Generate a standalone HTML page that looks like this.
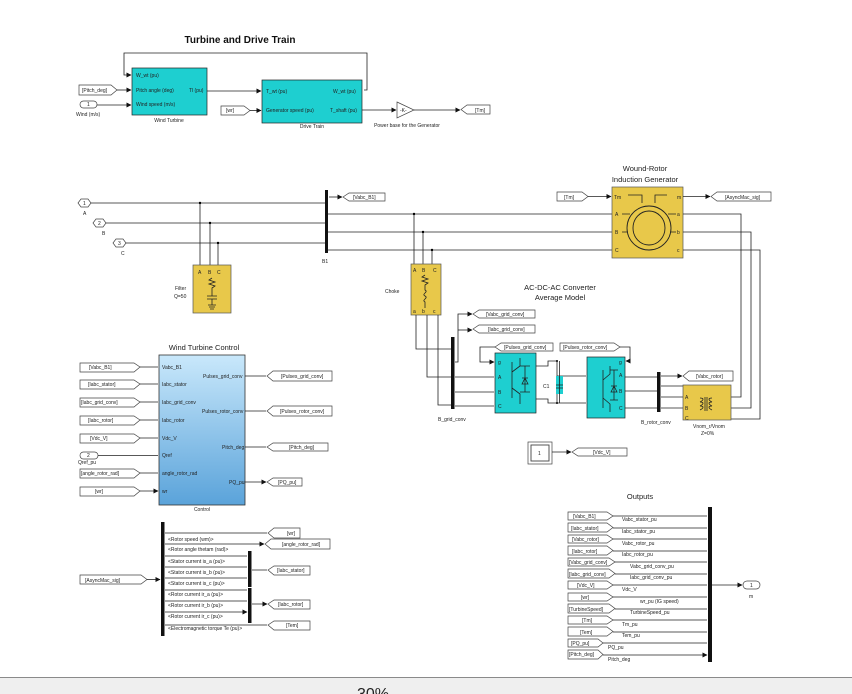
<!DOCTYPE html>
<html><head><meta charset="utf-8"><style>
body{margin:0;background:#fff;width:852px;height:694px;overflow:hidden}
svg{display:block;font-family:"Liberation Sans",sans-serif}
.t{font-size:5px;fill:#222}
.l{stroke:#222;stroke-width:0.8;fill:none}
.tag{fill:#fff;stroke:#444;stroke-width:0.7}
.cy{fill:#1ecfd0;stroke:#222;stroke-width:0.7}
.yl{fill:#e8c84a;stroke:#555;stroke-width:0.7}
</style></head><body>
<svg width="852" height="694" viewBox="0 0 852 694">
<defs>
<marker id="a" markerWidth="5" markerHeight="5" refX="4.5" refY="2.5" orient="auto" markerUnits="userSpaceOnUse"><path d="M0,0L5,2.5L0,5z" fill="#111"/></marker>
<linearGradient id="g" x1="0" y1="0" x2="0" y2="1"><stop offset="0" stop-color="#c9e8fb"/><stop offset="1" stop-color="#5aa3da"/></linearGradient>
</defs>

<!-- Turbine and Drive Train -->
<text x="240" y="43" font-size="10" font-weight="bold" text-anchor="middle" fill="#111">Turbine and Drive Train</text>
<path class="l" d="M364,90 H367 V53 H124 V75 H131" marker-end="url(#a)"/>
<rect class="cy" x="132" y="68" width="75" height="47"/>
<text class="t" x="136" y="77">W_wt (pu)</text><text class="t" x="136" y="92">Pitch angle (deg)</text><text class="t" x="136" y="106">Wind speed (m/s)</text>
<text class="t" x="189" y="92">Tl (pu)</text>
<text class="t" x="169" y="122" text-anchor="middle">Wind Turbine</text>
<polygon class="tag" points="79,85 111,85 117,90 111,95 79,95"/><text class="t" x="82" y="92">[Pitch_deg]</text>
<path class="l" d="M117,90 H131" marker-end="url(#a)"/>
<rect class="tag" x="80" y="101" width="17" height="7" rx="3.5"/><text class="t" x="87" y="106">1</text>
<text class="t" x="76" y="116">Wind (m/s)</text>
<path class="l" d="M97,105 H131" marker-end="url(#a)"/>
<path class="l" d="M207,91 H261" marker-end="url(#a)"/>
<rect class="cy" x="262" y="80" width="100" height="43"/>
<text class="t" x="266" y="93">T_wt (pu)</text><text class="t" x="266" y="112">Generator speed (pu)</text>
<text class="t" x="333" y="93">W_wt (pu)</text><text class="t" x="330" y="112">T_shaft (pu)</text>
<text class="t" x="312" y="128" text-anchor="middle">Drive Train</text>
<polygon class="tag" points="221,106 244,106 250,110.5 244,115 221,115"/><text class="t" x="226" y="112">[wr]</text>
<path class="l" d="M250,110.5 H261" marker-end="url(#a)"/>
<path class="l" d="M362,110 H396" marker-end="url(#a)"/>
<polygon fill="#fff" stroke="#444" stroke-width="0.7" points="397,102 414,110 397,118"/><text class="t" x="400" y="112">-K-</text>
<text class="t" x="407" y="127" text-anchor="middle">Power base for the Generator</text>
<path class="l" d="M414,110 H460" marker-end="url(#a)"/>
<polygon class="tag" points="461,109.5 467,105 490,105 490,114 467,114"/><text class="t" x="475" y="112">[Tm]</text>

<!-- Grid inputs -->
<polygon class="tag" points="78,203 81,199 88,199 91,203 88,207 81,207"/><text class="t" x="83" y="205">1</text><text class="t" x="83" y="215">A</text>
<polygon class="tag" points="93,223 96,219 103,219 106,223 103,227 96,227"/><text class="t" x="98" y="225">2</text><text class="t" x="102" y="235">B</text>
<polygon class="tag" points="113,243 116,239 123,239 126,243 123,247 116,247"/><text class="t" x="118" y="245">3</text><text class="t" x="121" y="255">C</text>
<path class="l" d="M91,203 H325 M106,223 H325 M126,243 H325"/>
<path class="l" d="M200,203 V265 M210,223 V265 M218,243 V265"/>
<circle cx="200" cy="203" r="1.2"/><circle cx="210" cy="223" r="1.2"/><circle cx="218" cy="243" r="1.2"/>
<rect class="yl" x="193" y="265" width="38" height="48"/>
<path class="l" d="M212,278 l-3,2 6,2 -6,2 6,2 -3,2 V296 M207,296 h10 M207,299 h10 M212,299 v6 M208,305h8 M209,307h6 M210,309h4"/>
<text class="t" x="198" y="274">A</text><text class="t" x="208" y="274">B</text><text class="t" x="217" y="274">C</text>
<text class="t" x="175" y="290">Filter</text><text class="t" x="174" y="298">Q=50</text>
<rect x="325" y="190" width="3" height="63" fill="#111"/>
<text class="t" x="322" y="263">B1</text>
<path class="l" d="M329,197 H342" marker-end="url(#a)"/>
<polygon class="tag" points="343,197 349,193 385,193 385,201 349,201"/><text class="t" x="353" y="199">[Vabc_B1]</text>
<path class="l" d="M328,214 H612 M328,232 H612 M328,250 H612"/>
<path class="l" d="M414,214 V264 M423,232 V264 M432,250 V264"/>
<circle cx="414" cy="214" r="1.2"/><circle cx="423" cy="232" r="1.2"/><circle cx="432" cy="250" r="1.2"/>
<rect class="yl" x="411" y="264" width="30" height="51"/>
<text class="t" x="413" y="272">A</text><text class="t" x="422" y="272">B</text><text class="t" x="433" y="272">C</text>
<text class="t" x="413" y="313">a</text><text class="t" x="422" y="313">b</text><text class="t" x="433" y="313">c</text>
<path class="l" d="M425,275 l-3,2 6,2 -6,2 6,2 -3,2 V290 c4,2 -4,4 0,6 c4,2 -4,4 0,6 V308"/>
<text class="t" x="385" y="293">Choke</text>
<path class="l" d="M416,315 V349 H451 M427,315 V377 H451 M438,315 V405 H451"/>

<!-- Generator -->
<text x="645" y="171" font-size="7.5" text-anchor="middle" fill="#222">Wound-Rotor</text>
<text x="645" y="182" font-size="7.5" text-anchor="middle" fill="#222">Induction Generator</text>
<polygon class="tag" points="557,192 582,192 588,196.5 582,201 557,201"/><text class="t" x="564" y="199">[Tm]</text>
<path class="l" d="M588,196.5 H611" marker-end="url(#a)"/>
<rect class="yl" x="612" y="187" width="71" height="71"/>
<text class="t" x="614" y="199">Tm</text><text class="t" x="677" y="199">m</text>
<text class="t" x="615" y="216">A</text><text class="t" x="615" y="234">B</text><text class="t" x="615" y="252">C</text>
<text class="t" x="677" y="216">a</text><text class="t" x="677" y="234">b</text><text class="t" x="677" y="252">c</text>
<ellipse cx="649" cy="228" rx="22" ry="22" fill="none" stroke="#222" stroke-width="0.9"/>
<ellipse cx="649" cy="228" rx="16" ry="17" fill="none" stroke="#222" stroke-width="0.9"/>
<path class="l" d="M628,195 h14 v8 M655,203 v-8 h12 M622,214 h8 M622,232 h6 M670,232 h6 M668,214 h8"/>
<path class="l" d="M683,196.5 H710" marker-end="url(#a)"/>
<polygon class="tag" points="711,196.5 717,192 771,192 771,201 717,201"/><text class="t" x="725" y="199">[AsyncMac_sig]</text>
<path class="l" d="M683,214 H741 V397 H731 M683,232 H751 V408 H731 M683,250 H760 V419 H731"/>

<!-- Converter -->
<text x="560" y="290" font-size="7.5" text-anchor="middle" fill="#222">AC-DC-AC Converter</text>
<text x="560" y="300" font-size="7.5" text-anchor="middle" fill="#222">Average Model</text>
<rect x="451" y="337" width="3.5" height="72" fill="#111"/>
<text class="t" x="438" y="421">B_grid_conv</text>
<path class="l" d="M455,362 H458 V314 H472" marker-end="url(#a)"/>
<path class="l" d="M458,330 H472" marker-end="url(#a)"/>
<polygon class="tag" points="473,314 479,310 535,310 535,318 479,318"/><text class="t" x="486" y="316">[Vabc_grid_conv]</text>
<polygon class="tag" points="473,329 479,325 535,325 535,333 479,333"/><text class="t" x="488" y="331">[Iabc_grid_conv]</text>
<path class="l" d="M455,377 H494 M455,392 H494 M455,406 H494"/>
<polygon class="tag" points="495,347 501,343 553,343 553,351 501,351"/><text class="t" x="504" y="349">[Pulses_grid_conv]</text>
<path class="l" d="M495,347 H480 V362 H494" marker-end="url(#a)"/>
<rect class="cy" x="495" y="353" width="41" height="60"/>
<text class="t" x="498" y="364" fill="#06c">g</text><text class="t" x="498" y="379">A</text><text class="t" x="498" y="394">B</text><text class="t" x="498" y="408">C</text>
<path class="l" d="M512,362 v36 M512,372 l8,-6 v-8 M512,388 l8,6 v10 M520,366 h10 M520,392 h10 M525,366 v26 M522,384 l3,-6 3,6z M522,378h6"/>
<path class="l" d="M536,366 H548 V361 H557 V376 H586 M536,399 H548 V403 H557 V387 V403 H586"/>
<rect x="556" y="376" width="7" height="18" fill="#1ecfd0"/>
<path class="l" d="M559.5,361 V403 M556,385h7 M556,388h7"/>
<circle cx="557" cy="361" r="1"/><circle cx="557" cy="403" r="1"/>
<text class="t" x="543" y="388">C1</text>
<polygon class="tag" points="560,343 614,343 620,347 614,351 560,351"/><text class="t" x="563" y="349">[Pulses_rotor_conv]</text>
<path class="l" d="M620,347 H630 V361 H626" marker-end="url(#a)"/>
<rect class="cy" x="587" y="357" width="38" height="61"/>
<text class="t" x="619" y="364" fill="#06c">g</text><text class="t" x="619" y="377">A</text><text class="t" x="619" y="393">B</text><text class="t" x="619" y="410">C</text>
<path class="l" d="M603,370 v38 M603,380 l7,-6 v-8 M603,398 l7,6 v8 M610,370 h8 M610,400 h8 M614,370 v30 M611,392 l3,-6 3,6z M611,386h6"/>
<path class="l" d="M625,377 H657 M625,391 H657 M625,408 H657"/>
<rect x="657" y="372" width="3.5" height="40" fill="#111"/>
<text class="t" x="641" y="424">B_rotor_conv</text>
<path class="l" d="M661,376 H682" marker-end="url(#a)"/>
<polygon class="tag" points="683,376 689,371 733,371 733,381 689,381"/><text class="t" x="696" y="378">[Vabc_rotor]</text>
<path class="l" d="M661,386 H683 M661,397 H683 M661,408 H683"/>
<rect class="yl" x="683" y="385" width="48" height="35"/>
<text class="t" x="685" y="399">A</text><text class="t" x="685" y="410">B</text><text class="t" x="685" y="420">C</text>
<path class="l" d="M700,402 c4,-2 4,-4 0,-4 M700,406 c4,-2 4,-4 0,-4 M700,410 c4,-2 4,-4 0,-4 M712,402 c-4,-2 -4,-4 0,-4 M712,406 c-4,-2 -4,-4 0,-4 M712,410 c-4,-2 -4,-4 0,-4 M705,397v14 M707,397v14"/>
<text class="t" x="693" y="428">Vnom_r/Vnom</text><text class="t" x="701" y="435">Z=0%</text>
<rect x="528" y="442" width="24" height="22" fill="#fff" stroke="#444" stroke-width="0.7"/>
<rect x="531" y="445" width="18" height="16" fill="#fff" stroke="#444" stroke-width="0.9"/><text class="t" x="538" y="455">1</text>
<path class="l" d="M552,452 H571" marker-end="url(#a)"/>
<polygon class="tag" points="572,452 578,448 627,448 627,456 578,456"/><text class="t" x="593" y="454">[Vdc_V]</text>

<!-- Control -->
<text x="204" y="350" font-size="7.5" text-anchor="middle" fill="#222">Wind Turbine Control</text>
<rect x="159" y="355" width="86" height="150" fill="url(#g)" stroke="#333" stroke-width="0.8"/>
<text class="t" x="202" y="511" text-anchor="middle">Control</text>
<g class="t">
<polygon class="tag" points="80,363 134,363 140,367 134,372 80,372"/><text x="89" y="369">[Vabc_B1]</text>
<polygon class="tag" points="80,380 134,380 140,384 134,389 80,389"/><text x="88" y="386">[Iabc_stator]</text>
<polygon class="tag" points="80,398 134,398 140,402 134,407 80,407"/><text x="81" y="404">[Iabc_grid_conv]</text>
<polygon class="tag" points="80,416 134,416 140,420 134,425 80,425"/><text x="88" y="422">[Iabc_rotor]</text>
<polygon class="tag" points="80,434 134,434 140,438 134,443 80,443"/><text x="90" y="440">[Vdc_V]</text>
<rect class="tag" x="80" y="452" width="18" height="7" rx="3.5"/><text x="87" y="457">2</text><text x="78" y="464">Qref_pu</text>
<polygon class="tag" points="80,469 134,469 140,473 134,478 80,478"/><text x="81" y="475">[angle_rotor_rad]</text>
<polygon class="tag" points="80,487 134,487 140,491 134,496 80,496"/><text x="95" y="493">[wr]</text>
</g>
<path class="l" d="M140,367 H158 M140,384 H158 M140,402 H158 M140,420 H158 M140,438 H158 M98,455.5 H158 M140,473 H158 M140,491 H158" marker-end="url(#a)"/>
<g class="t"><text x="162" y="369">Vabc_B1</text><text x="162" y="386">Iabc_stator</text><text x="162" y="404">Iabc_grid_conv</text><text x="162" y="422">Iabc_rotor</text><text x="162" y="440">Vdc_V</text><text x="162" y="457">Qref</text><text x="162" y="475">angle_rotor_rad</text><text x="162" y="493">wr</text>
<text x="203" y="378">Pulses_grid_conv</text><text x="202" y="413">Pulses_rotor_conv</text><text x="222" y="449">Pitch_deg</text><text x="229" y="484">PQ_pu</text></g>
<path class="l" d="M245,376 H266 M245,411 H266 M245,447 H266 M245,482 H266" marker-end="url(#a)"/>
<g class="t">
<polygon class="tag" points="267,376 273,371 332,371 332,381 273,381"/><text x="281" y="378">[Pulses_grid_conv]</text>
<polygon class="tag" points="267,411 273,406 332,406 332,416 273,416"/><text x="280" y="413">[Pulses_rotor_conv]</text>
<polygon class="tag" points="267,447 273,443 328,443 328,451 273,451"/><text x="289" y="449">[Pitch_deg]</text>
<polygon class="tag" points="267,482 273,478 302,478 302,486 273,486"/><text x="278" y="484">[PQ_pu]</text>
</g>

<!-- Bus selector -->
<polygon class="tag" points="80,575 141,575 147,579.5 141,584 80,584"/><text class="t" x="85" y="582">[AsyncMac_sig]</text>
<path class="l" d="M147,579.5 H160" marker-end="url(#a)"/>
<rect x="161" y="522" width="3.5" height="114" fill="#111"/>
<g class="t" font-size="4.5">
<text x="168" y="541">&lt;Rotor speed (wm)&gt;</text><text x="168" y="551">&lt;Rotor angle thetam (rad)&gt;</text>
<text x="168" y="563">&lt;Stator current is_a (pu)&gt;</text><text x="168" y="574">&lt;Stator current is_b (pu)&gt;</text><text x="168" y="585">&lt;Stator current is_c (pu)&gt;</text>
<text x="168" y="596">&lt;Rotor current ir_a (pu)&gt;</text><text x="168" y="607">&lt;Rotor current ir_b (pu)&gt;</text><text x="168" y="618">&lt;Rotor current ir_c (pu)&gt;</text>
<text x="168" y="630">&lt;Electromagnetic torque Te (pu)&gt;</text></g>
<path class="l" d="M165,533 H267 M165,544 H264" marker-end="url(#a)"/>
<path class="l" d="M165,556 H247 M165,567 H247 M165,578 H247 M165,590 H247 M165,601 H247 M165,612 H247" marker-end="url(#a)"/>
<path class="l" d="M165,625 H267 M252,570 H267 M252,604 H267" marker-end="url(#a)"/>
<rect x="248" y="551" width="3.5" height="36" fill="#111"/><rect x="248" y="588" width="3.5" height="35" fill="#111"/>
<g class="t">
<polygon class="tag" points="268,533 274,528 300,528 300,538 274,538"/><text x="287" y="535">[wr]</text>
<polygon class="tag" points="265,544 271,539 330,539 330,549 271,549"/><text x="282" y="546">[angle_rotor_rad]</text>
<polygon class="tag" points="268,570 274,566 310,566 310,575 274,575"/><text x="277" y="572">[Iabc_stator]</text>
<polygon class="tag" points="268,604 274,600 310,600 310,609 274,609"/><text x="278" y="606">[Iabc_rotor]</text>
<polygon class="tag" points="268,625 274,621 310,621 310,630 274,630"/><text x="286" y="627">[Tem]</text>
</g>

<!-- Outputs -->
<text x="640" y="499" font-size="7.5" text-anchor="middle" fill="#222">Outputs</text>
<rect x="708" y="507" width="4" height="155" fill="#111"/>
<g class="t" font-size="4.6">
<polygon class="tag" points="568,512 607,512 613,516 607,520 568,520"/><text x="573" y="518">[Vabc_B1]</text><text x="622" y="521">Vabc_stator_pu</text>
<polygon class="tag" points="568,523 607,523 613,527.5 607,532 568,532"/><text x="571" y="530">[Iabc_stator]</text><text x="622" y="533">Iabc_stator_pu</text>
<polygon class="tag" points="568,535 607,535 613,539 607,543 568,543"/><text x="572" y="541">[Vabc_rotor]</text><text x="622" y="545">Vabc_rotor_pu</text>
<polygon class="tag" points="568,546 607,546 613,550.5 607,555 568,555"/><text x="572" y="553">[Iabc_rotor]</text><text x="622" y="556">Iabc_rotor_pu</text>
<polygon class="tag" points="568,558 609,558 615,562 609,566 568,566"/><text x="569" y="564">[Vabc_grid_conv]</text><text x="630" y="568">Vabc_grid_conv_pu</text>
<polygon class="tag" points="568,569 609,569 615,573.5 609,578 568,578"/><text x="569" y="576">[Iabc_grid_conv]</text><text x="630" y="579">Iabc_grid_conv_pu</text>
<polygon class="tag" points="568,581 607,581 613,585 607,589 568,589"/><text x="577" y="587">[Vdc_V]</text><text x="622" y="591">Vdc_V</text>
<polygon class="tag" points="568,593 607,593 613,597 607,601 568,601"/><text x="581" y="599">[wr]</text><text x="640" y="603">wr_pu (IG speed)</text>
<polygon class="tag" points="568,604 609,604 615,608.5 609,613 568,613"/><text x="569" y="611">[TurbineSpeed]</text><text x="630" y="614">TurbineSpeed_pu</text>
<polygon class="tag" points="568,616 607,616 613,620 607,624 568,624"/><text x="582" y="622">[Tm]</text><text x="622" y="626">Tm_pu</text>
<polygon class="tag" points="568,627 607,627 613,631.5 607,636 568,636"/><text x="580" y="634">[Tem]</text><text x="622" y="637">Tem_pu</text>
<polygon class="tag" points="568,639 598,639 603,643 598,647 568,647"/><text x="571" y="645">[PQ_pu]</text><text x="608" y="649">PQ_pu</text>
<polygon class="tag" points="568,650 598,650 603,654.5 598,659 568,659"/><text x="569" y="656">[Pitch_deg]</text><text x="608" y="661">Pitch_deg</text>
</g>
<path class="l" d="M613,516 H707 M613,528 H707 M613,539 H707 M613,551 H707 M615,562 H707 M615,574 H707 M613,585 H707 M613,597 H707 M615,609 H707 M613,620 H707 M613,632 H707 M603,643 H707 M603,655 H707" marker-end="url(#a)"/>
<path class="l" d="M712,585 H742" marker-end="url(#a)"/>
<rect class="tag" x="743" y="581" width="17" height="8" rx="4"/><text class="t" x="750" y="587">1</text>
<text class="t" x="749" y="598">m</text>

<!-- bottom bar -->
<rect x="0" y="677" width="852" height="17" fill="#efefef"/>
<line x1="0" y1="677.5" x2="852" y2="677.5" stroke="#8a8a8a" stroke-width="1"/>
<text x="357" y="699" font-size="16" fill="#222">30%</text>
</svg>
</body></html>
